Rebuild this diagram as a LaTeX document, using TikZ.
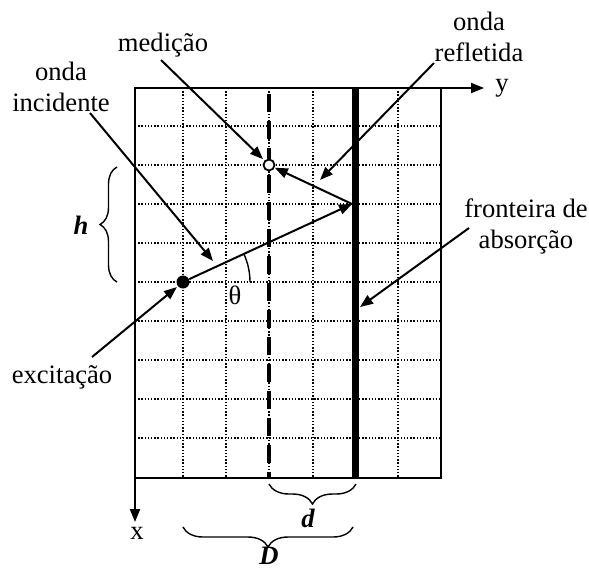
\documentclass[tikz,border=0pt]{standalone}
\usepackage{fontspec}
\setmainfont{Liberation Serif}
\usetikzlibrary{arrows.meta,decorations.pathreplacing}
\begin{document}
\begin{tikzpicture}[x=0.5pt,y=-0.5pt,
  lbl/.style={font=\fontsize{13.3}{15.5}\selectfont, align=center, inner sep=0pt},
  sym/.style={font=\fontsize{13.3}{15.5}\selectfont\bfseries\itshape, inner sep=0pt},
  ptr/.style={line width=1pt, -{Triangle[length=6.5pt,width=5pt]}},
  gridl/.style={line width=0.7pt, dash pattern=on 0.7pt off 0.9pt},
  bracestyle/.style={line width=0.7pt, decorate},
]
\useasboundingbox (0,0) rectangle (589,569);
% grid
\foreach \x in {183,226,269,313,398} \draw[gridl] (\x,88) -- (\x,478);
\foreach \y in {126,165,204,243,282,321,360,399,438} \draw[gridl] (135,\y) -- (441,\y);
% frame
\draw[line width=1.1pt] (135,88) rectangle (441,478);
% measurement line and absorbing boundary
\draw[line width=1.8pt, dash pattern=on 9pt off 4.5pt, dash phase=-2pt] (269,90) -- (269,478);
\draw[line width=3.5pt] (355.5,88) -- (355.5,478);
% axes
\coordinate (O) at (135,478);
\coordinate (C) at (441,88);
\coordinate (xe) at (135,522);
\coordinate (ye) at (484,88);
\draw[ptr] (O) -- (xe);
\draw[ptr] (C) -- (ye);
\node[lbl] (xl) at (137,533) {x};
\node[lbl] (yl) at (502,88) {y};
% points
\node[circle, draw, fill=white, line width=0.9pt, minimum size=5.5pt, inner sep=0pt] (meas) at (269,165) {};
\node[circle, fill=black, minimum size=6.5pt, inner sep=0pt] (exc) at (183,282) {};
\coordinate (R) at (352,204);
% rays
\draw[ptr] (exc) -- (R);
\draw[ptr] (R) -- (meas);
% angle
\draw[line width=0.7pt] (250,282) arc[start angle=0, end angle=25, radius=33.5pt];
\node[lbl] (th) at (235,295) {θ};
% labels
\node[lbl] (lmed) at (163,45) {medição};
\node[lbl] (linc) at (61,87) {onda\\incidente};
\node[lbl] (lref) at (479,37) {onda\\refletida};
\node[lbl] (lfro) at (526,226) {fronteira de\\absorção};
\node[lbl] (lexc) at (62,377) {excitação};
% pointer start/end points
\coordinate (pmed) at (161,60);
\coordinate (pinc) at (90,113);
\coordinate (qinc) at (213,261);
\coordinate (pref) at (434,63);
\coordinate (qref) at (320,180);
\coordinate (pfro) at (469,228);
\coordinate (qfro) at (360,307);
\coordinate (pexc) at (92,357);
\draw[ptr, shorten >=1pt] (pmed) -- (meas);
\draw[ptr] (pinc) -- (qinc);
\draw[ptr] (pref) -- (qref);
\draw[ptr] (pfro) -- (qfro);
\draw[ptr, shorten >=0.5pt] (pexc) -- (exc);
% braces
\draw[bracestyle, decoration={brace, amplitude=8.5pt}] (117,282) -- (117,167);
\node[sym] (hl) at (81,225) {h};
\draw[bracestyle, decoration={brace, mirror, amplitude=10pt}] (269,484) -- (356,484);
\node[sym] (dl) at (308,518) {d};
\draw[bracestyle, decoration={brace, mirror, amplitude=10pt}] (183,527) -- (353,527);
\node[sym] (Dl) at (269,556) {D};
\end{tikzpicture}
\end{document}
